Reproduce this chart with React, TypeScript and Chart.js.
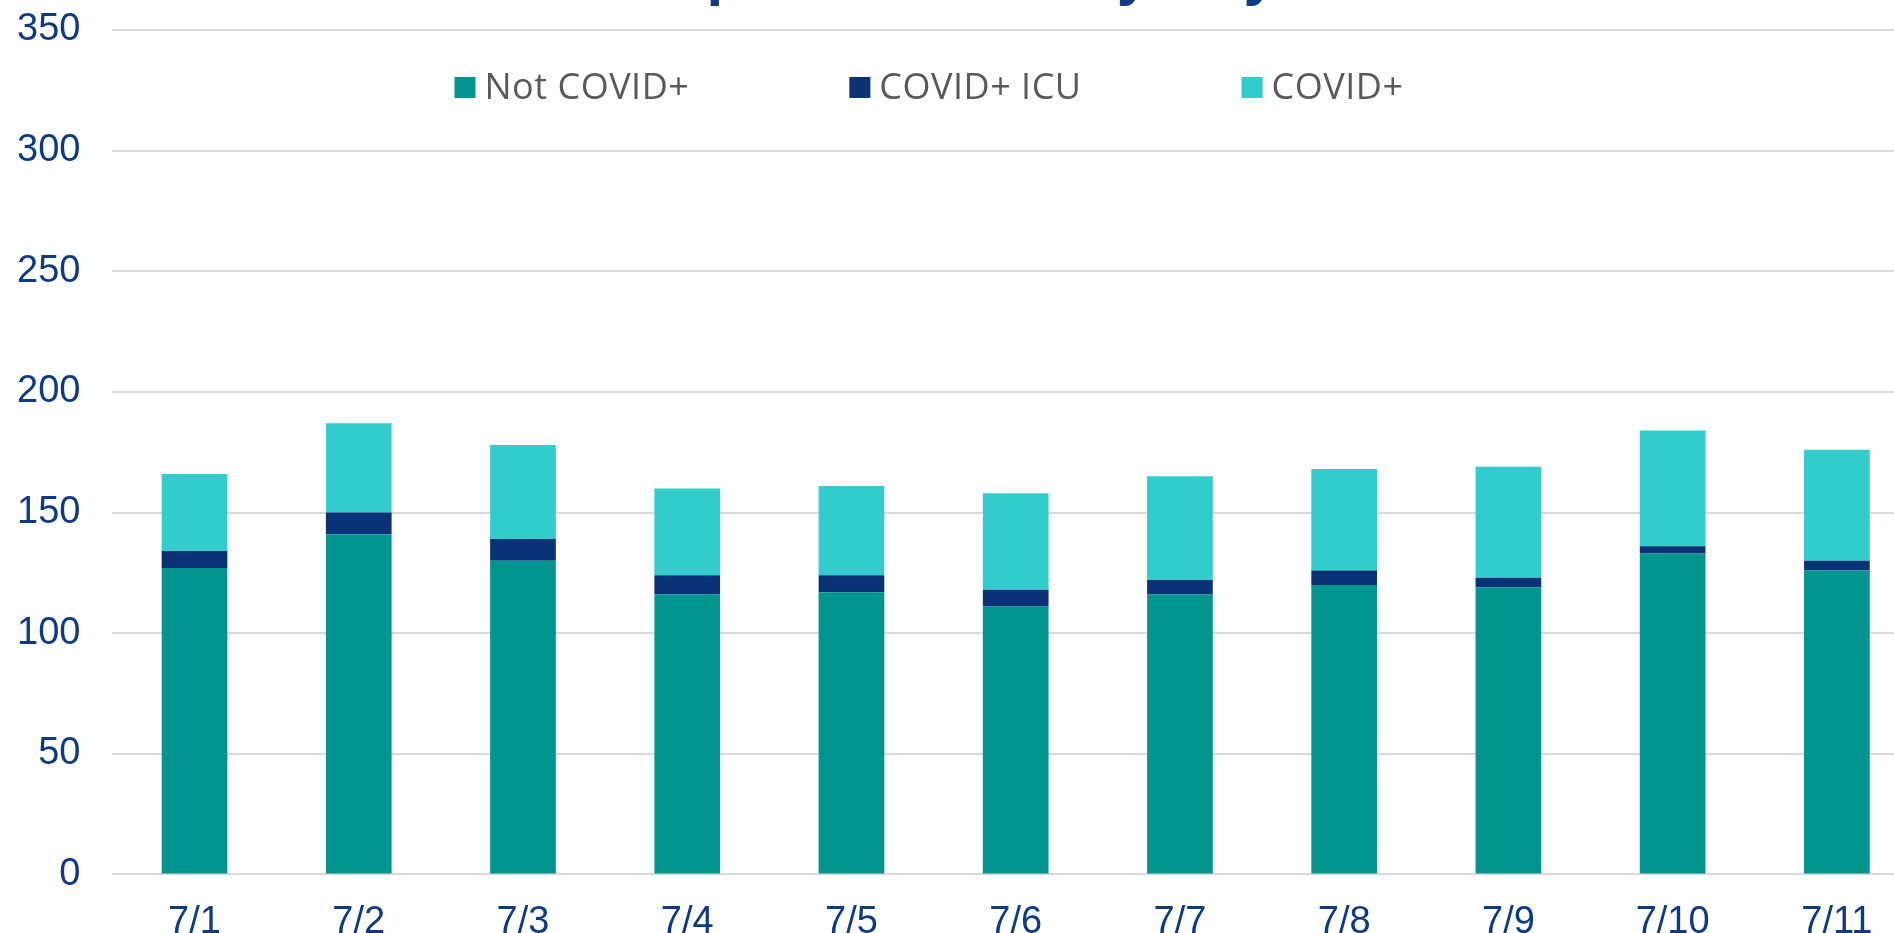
import React, { useEffect, useRef } from "react";
import { Chart, registerables } from "chart.js";

Chart.register(...registerables);

const TITLE = "Hospital Census by Day";
const CATEGORIES = ["7/1", "7/2", "7/3", "7/4", "7/5", "7/6", "7/7", "7/8", "7/9", "7/10", "7/11"];
const NOT_COVID = [127, 141, 130, 116, 117, 111, 116, 120, 119, 133, 126];
const COVID_ICU = [7, 9, 9, 8, 7, 7, 6, 6, 4, 3, 4];
const COVID_POS = [32, 37, 39, 36, 37, 40, 43, 42, 46, 48, 46];
const SERIES_LABELS = ["Not COVID+", "COVID+ ICU", "COVID+"];
const SERIES_COLORS = ["#00948F", "#0A3276", "#33CCCC"];
const Y_MIN = 0;
const Y_MAX = 350;
const Y_STEP = 50;

const BLUE = "#0D3A84";
const AXIS_FONT = '"Liberation Sans", Arial, sans-serif';

const titlePlugin = {
  id: "cutTitle",
  afterDraw(chart: any) {
    const ctx = chart.ctx;
    ctx.save();
    ctx.font = 'bold 60px "Liberation Sans", Arial, sans-serif';
    ctx.fillStyle = BLUE;
    ctx.textAlign = "center";
    ctx.textBaseline = "alphabetic";
    ctx.fillText(TITLE, 935, -6.5);
    ctx.restore();
  },
};

const legendPlugin = {
  id: "customLegend",
  afterDraw(chart: any) {
    const ctx = chart.ctx;
    ctx.save();
    ctx.font = '36px "Open Sans", sans-serif';
    try {
      (ctx as any).letterSpacing = "0.5px";
    } catch (e) {}
    const box = 21;
    const textGap = 9;
    const itemGap = 160;
    const items = chart.data.datasets.map((ds: any) => ({
      label: ds.label,
      color: ds.backgroundColor,
      w: box + textGap + ctx.measureText(ds.label).width,
    }));
    const total = items.reduce((s: number, it: any) => s + it.w, 0) + itemGap * (items.length - 1);
    let x = 929 - total / 2;
    const yc = chart.chartArea.top + 57.5;
    ctx.textBaseline = "middle";
    ctx.textAlign = "left";
    for (const it of items) {
      ctx.fillStyle = it.color;
      ctx.fillRect(x, yc - box / 2, box, box);
      ctx.fillStyle = "#595959";
      ctx.fillText(it.label, x + box + textGap, yc + 1);
      x += it.w + itemGap;
    }
    ctx.restore();
  },
};

export default function App() {
  const canvasRef = useRef<HTMLCanvasElement | null>(null);

  useEffect(() => {
    if (!canvasRef.current) return;
    const seriesData = [NOT_COVID, COVID_ICU, COVID_POS];
    const chart = new Chart(canvasRef.current, {
      type: "bar",
      data: {
        labels: CATEGORIES,
        datasets: SERIES_LABELS.map((label, i) => ({
          label,
          data: seriesData[i],
          backgroundColor: SERIES_COLORS[i],
          borderWidth: 0,
          categoryPercentage: 1.0,
          barPercentage: 0.4,
        })),
      },
      options: {
        animation: false,
        responsive: false,
        devicePixelRatio: 1,
        layout: { padding: { top: 30, left: -15, right: 0, bottom: 0 } },
        plugins: {
          legend: { display: false },
          title: { display: false },
          tooltip: { enabled: false },
        },
        scales: {
          x: {
            stacked: true,
            grid: { display: false, drawTicks: false },
            border: { display: false },
            ticks: {
              color: BLUE,
              font: { family: AXIS_FONT, size: 38 },
              padding: 25,
              maxRotation: 0,
              autoSkip: false,
            },
          },
          y: {
            stacked: true,
            min: Y_MIN,
            max: Y_MAX,
            grid: { color: "#D9D9D9", lineWidth: 2, drawTicks: false },
            border: { display: false },
            ticks: {
              stepSize: Y_STEP,
              color: BLUE,
              font: { family: AXIS_FONT, size: 38 },
              padding: 32,
            },
            afterFit: (scale: any) => {
              scale.paddingTop = 0;
              scale.paddingBottom = 0;
            },
          },
        },
      },
      plugins: [titlePlugin, legendPlugin],
    });
    return () => chart.destroy();
  }, []);

  return (
    <div
      style={{
        position: "fixed",
        left: 0,
        top: 0,
        width: 1894,
        height: 933,
        overflow: "hidden",
        background: "#ffffff",
      }}
    >
      <canvas ref={canvasRef} width={1919} height={970} style={{ display: "block" }} />
    </div>
  );
}
